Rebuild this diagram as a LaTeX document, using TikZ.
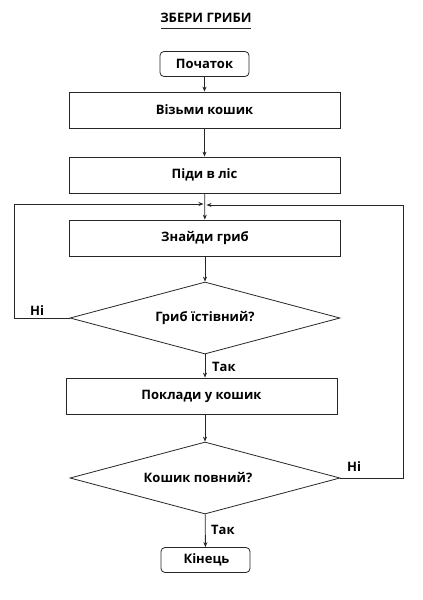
\documentclass[tikz,border=0pt]{standalone}
\usepackage{fontspec}
\setmainfont{Open Sans}
\usetikzlibrary{shapes.geometric,arrows.meta}
\begin{document}
\begin{tikzpicture}[x=1pt,y=-1pt,
  font=\bfseries\fontsize{13}{15}\selectfont,
  line/.style={draw=black!85,line width=0.8pt},
  arr/.style={line,-{Stealth[length=5pt,width=4pt]}},
  term/.style={line,rounded corners=4pt,minimum width=89pt,minimum height=25pt,inner sep=0pt},
  proc/.style={line,minimum width=271pt,minimum height=36pt,inner sep=0pt},
  dec/.style={line,diamond,aspect=3.75,minimum width=270pt,minimum height=72pt,inner sep=0pt},
  lbl/.style={inner sep=0pt,anchor=west}]
\useasboundingbox (0,0) rectangle (423,600);
\node[inner sep=0pt] (title) at (206,18) {ЗБЕРИ ГРИБИ};
\draw[line] (161,28.5) -- (251,28.5);
\node[term] (start) at (204.5,64) {Початок};
\node[proc] (b1) at (204.5,110) {Візьми кошик};
\node[proc] (b2) at (204.5,175) {Піди в ліс};
\node[proc] (b3) at (205,238) {Знайди гриб};
\node[dec] (d1) at (205,318) {Гриб їстівний?};
\node[proc] (b4) at (201.5,396) {Поклади у кошик};
\node[dec] (d2) at (205,478) {\hspace*{-14pt}Кошик повний?};
\node[term] (end) at (205.5,560) {\hspace*{2pt}Кінець};
\coordinate (m) at (205,204.5);
\coordinate (l1) at (14,318);
\coordinate (l2) at (14,204);
\coordinate (r1) at (403,478);
\coordinate (r2) at (403,205);
\draw[arr] (start) -- (b1);
\draw[arr] (b1) -- (b2);
\draw[arr] (b2) -- (b3);
\draw[arr] (b3) -- (d1);
\draw[arr] (d1.south) -- (d1.south |- b4.north);
\draw[arr] (d2.north |- b4.south) -- (d2.north);
\draw[arr] (d2) -- (end);
\draw[arr] (d1.west) -- (l1) -- (l2) -- ([xshift=-1.5pt]m |- l2);
\draw[arr] (d2.east) -- (r1) -- (r2) -- ([xshift=1.5pt]m |- r2);
\node[lbl] at (30,311) {Ні};
\node[lbl] at (347,467) {Ні};
\node[lbl] at (212,367) {Так};
\node[lbl] at (211,530) {Так};
\end{tikzpicture}
\end{document}
